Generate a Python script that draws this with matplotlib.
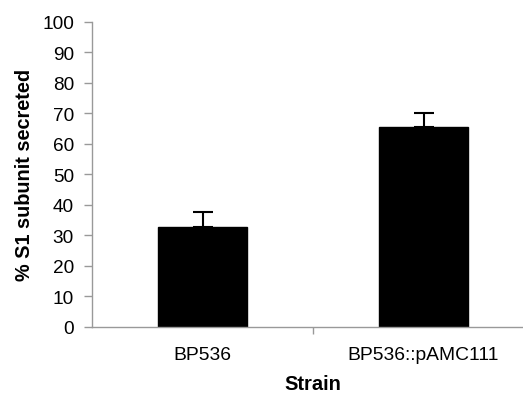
import matplotlib.pyplot as plt
import numpy as np

strains = ["BP536", "BP536::pAMC111"]
secreted = [32.8, 65.4]
err_up = [4.7, 4.6]
yticks = list(range(0, 101, 10))

plt.rcParams['font.family'] = ['Liberation Sans', 'DejaVu Sans']

fig = plt.figure(figsize=(5.23, 4.02), dpi=100)
ax = fig.add_axes([92 / 523, 74.3 / 402, 442 / 523, 305 / 402])

x = np.arange(len(strains))
ax.bar(x, secreted, width=0.4, color='black', edgecolor='black', zorder=2)
ax.errorbar(x, secreted, yerr=[np.zeros(len(err_up)), err_up], fmt='none',
            ecolor='black', elinewidth=1.5, capsize=7, capthick=1.5, zorder=1)

ax.set_xlim(-0.5, 1.5)
ax.set_ylim(0, 100)
ax.set_yticks(yticks)
ax.set_xticks(x)
ax.set_xticklabels(strains, fontsize=13.9)
ax.set_xticks([0.5], minor=True)
ax.tick_params(axis='x', which='major', length=0, pad=14)
ax.tick_params(axis='x', which='minor', length=5, color='#999999', width=1)
ax.tick_params(axis='y', length=6, color='#999999', width=1, labelsize=13.7, pad=7)

for s in ['top', 'right']:
    ax.spines[s].set_visible(False)
for s in ['left', 'bottom']:
    ax.spines[s].set_color('#999999')
    ax.spines[s].set_linewidth(1)

ax.set_ylabel("% S1 subunit secreted", fontsize=14.3, fontweight='bold', labelpad=6)
ax.set_xlabel("Strain", fontsize=14.5, fontweight='bold', labelpad=8)

fig.savefig("out.png", dpi=100)
